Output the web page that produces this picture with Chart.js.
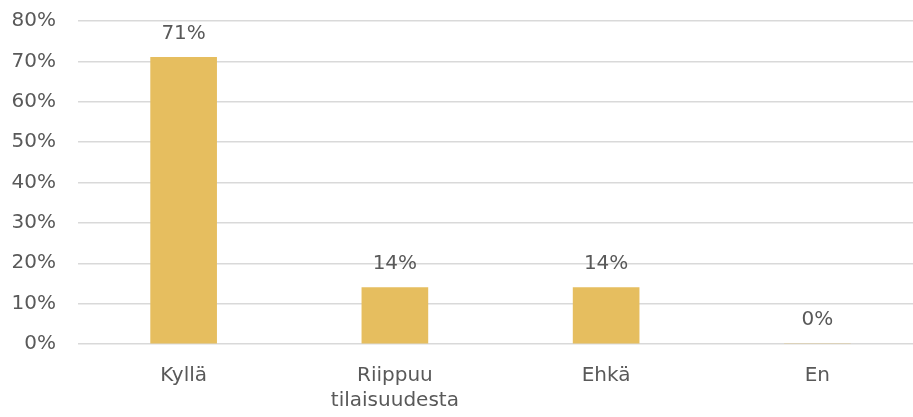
<!DOCTYPE html>
<html>
<head>
<meta charset="utf-8">
<script src="https://cdn.jsdelivr.net/npm/chart.js@4/dist/chart.umd.min.js"></script>
<style>
  html, body { margin: 0; padding: 0; background: #fff; overflow: hidden; }
  #wrap { width: 923px; height: 430px; position: relative; top: -13px; }
</style>
</head>
<body>
<div id="wrap"><canvas id="chart"></canvas></div>
<script>
// Chart data
const categories = ['Kyllä', ['Riippuu', 'tilaisuudesta'], 'Ehkä', 'En'];
const shares = [0.71, 0.14, 0.14, 0];
const yMax = 0.8;
const yStep = 0.1;

const FONT = "'DejaVu Sans', sans-serif";
const TEXT = '#595959';

function pct(v) {
    return Math.round(v * 100) + '%';
}

// draws the value above each bar
const valueLabels = {
    id: 'valueLabels',
    afterDatasetsDraw(chart) {
        const ctx = chart.ctx;
        const meta = chart.getDatasetMeta(0);
        ctx.save();
        ctx.font = '20px ' + FONT;
        ctx.fillStyle = TEXT;
        ctx.textAlign = 'center';
        ctx.textBaseline = 'middle';
        meta.data.forEach((bar, i) => {
            ctx.fillText(pct(shares[i]), bar.x, bar.y - 24);
        });
        ctx.restore();
    }
};

new Chart(document.getElementById('chart'), {
    type: 'bar',
    data: {
        labels: categories,
        datasets: [{
            data: shares,
            backgroundColor: '#E6BE5F',
            barThickness: 66
        }]
    },
    options: {
        responsive: true,
        maintainAspectRatio: false,
        animation: false,
        layout: { padding: { top: 8, right: 0, bottom: 0, left: 0 } },
        plugins: {
            legend: { display: false },
            tooltip: { enabled: false }
        },
        scales: {
            x: {
                grid: { display: false, drawTicks: false },
                border: { display: false },
                ticks: {
                    color: TEXT,
                    font: { family: FONT, size: 20, lineHeight: 1.25 },
                    padding: 19,
                    maxRotation: 0
                },
                afterFit(scale) { scale.height = 73; }
            },
            y: {
                min: 0,
                max: yMax,
                grid: { color: '#D9D9D9', lineWidth: 1.5, drawTicks: false },
                border: { display: false },
                ticks: {
                    stepSize: yStep,
                    color: TEXT,
                    font: { family: FONT, size: 20 },
                    padding: 22,
                    callback: v => pct(v)
                },
                afterFit(scale) { scale.width = 78; }
            }
        }
    },
    plugins: [valueLabels]
});
</script>
</body>
</html>
